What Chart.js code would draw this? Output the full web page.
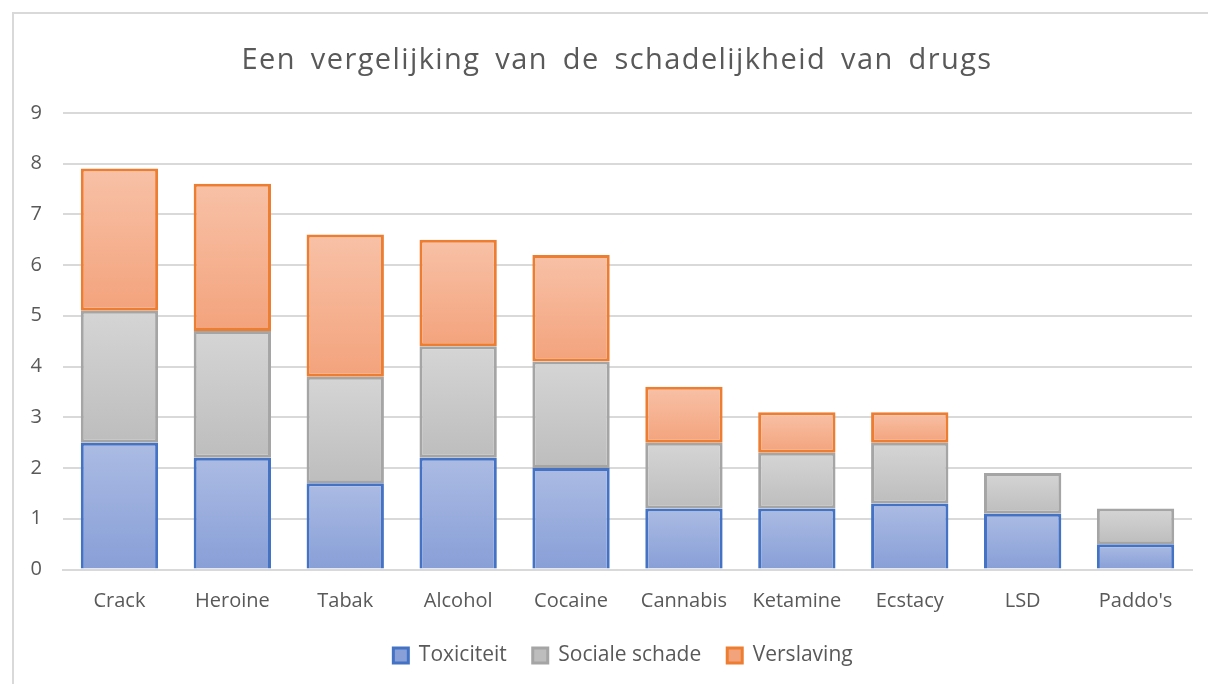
<!DOCTYPE html>
<html>
<head>
<meta charset="utf-8">
<script src="https://cdn.jsdelivr.net/npm/chart.js@4/dist/chart.umd.min.js"></script>
<style>
  body { margin: 0; background: #fff; }
  #frame { position: absolute; left: 12px; top: 12px; width: 1220px; height: 700px; border: 2px solid #d9d9d9; }
  #wrap { position: absolute; left: 0; top: 0; width: 1208px; height: 684px; }
</style>
</head>
<body>
<div id="frame"></div>
<div id="wrap"><canvas id="chart"></canvas></div>
<script>
// gegevens uit de grafiek
const drugs = ["Crack", "Heroine", "Tabak", "Alcohol", "Cocaine", "Cannabis", "Ketamine", "Ecstacy", "LSD", "Paddo's"];
const toxiciteit = [2.5, 2.2, 1.7, 2.2, 2.0, 1.2, 1.2, 1.3, 1.1, 0.5];
const socialeSchade = [2.6, 2.5, 2.1, 2.2, 2.1, 1.3, 1.1, 1.2, 0.8, 0.7];
const verslaving = [2.8, 2.9, 2.8, 2.1, 2.1, 1.1, 0.8, 0.6, 0, 0];
const seriesNames = ["Toxiciteit", "Sociale schade", "Verslaving"];
const yTicks = [0, 1, 2, 3, 4, 5, 6, 7, 8, 9];

const series = [toxiciteit, socialeSchade, verslaving];
const light = ["#abbbe3", "#d5d5d5", "#f8c1a7"];
const dark = ["#889fd7", "#bdbdbd", "#f3a37c"];
const mid = ["#9aade0", "#c9c9c9", "#f5b290"];
const edge = ["#4472c4", "#a5a5a5", "#ed7d31"];

// elk segment zijn eigen verloop, zoals in Excel
function fill(c, i) {
    const chart = c.chart;
    const y = chart.scales.y;
    if (c.type !== "data" || !y || !chart.chartArea) return mid[i];
    let base = 0;
    for (let k = 0; k < i; k++) base += series[k][c.dataIndex];
    const top = base + series[i][c.dataIndex];
    const g = chart.ctx.createLinearGradient(0, y.getPixelForValue(top), 0, y.getPixelForValue(base));
    g.addColorStop(0, light[i]);
    g.addColorStop(1, dark[i]);
    return g;
}

const font = "'Open Sans', 'Noto Sans', sans-serif";
const grey = "#595959";

const chart = new Chart(document.getElementById("chart"), {
    type: "bar",
    data: {
        labels: drugs,
        datasets: series.map((s, i) => ({
            label: seriesNames[i],
            data: s,
            backgroundColor: c => fill(c, i),
            borderColor: edge[i],
            borderWidth: 3,
            borderSkipped: i === 0 ? "start" : false,
            inflateAmount: 0,
            barPercentage: 1,
            categoryPercentage: 0.685
        }))
    },
    options: {
        responsive: true,
        maintainAspectRatio: false,
        animation: false,
        layout: { padding: { left: 20, right: 16, top: 43, bottom: 8 } },
        plugins: {
            title: {
                display: true,
                text: "Een vergelijking van de schadelijkheid van drugs",
                color: grey,
                font: { family: font, size: 29, weight: "normal" },
                padding: { top: 0, bottom: 35 }
            },
            legend: {
                position: "bottom",
                labels: {
                    color: grey,
                    font: { family: font, size: 21 },
                    boxWidth: 15,
                    boxHeight: 15,
                    padding: 26
                }
            },
            tooltip: { enabled: false }
        },
        scales: {
            x: {
                stacked: true,
                grid: { display: false },
                border: { color: "#d9d9d9", width: 2 },
                ticks: { color: grey, font: { family: font, size: 20 }, padding: 12 },
                afterFit: s => { s.height = 49.5; }
            },
            y: {
                stacked: true,
                min: 0,
                max: 9,
                afterBuildTicks: s => { s.ticks = yTicks.map(v => ({ value: v })); },
                grid: { color: "#d9d9d9", lineWidth: 2, drawTicks: false },
                border: { display: false },
                ticks: { color: grey, font: { family: font, size: 20 }, padding: 21 },
                afterFit: s => { s.width = 43; }
            }
        }
    }
});

// titel met wat extra letter- en woordafstand, zoals Excel hem tekent
const tb = chart.titleBlock;
const drawTitle = tb.draw.bind(tb);
tb.draw = function () {
    const ctx = chart.ctx;
    ctx.save();
    ctx.translate(11, 0);
    ctx.letterSpacing = "1.4px";
    ctx.wordSpacing = "6px";
    drawTitle();
    ctx.restore();
};

// legenda iets naar rechts, midden boven het plotgebied
const lg = chart.legend;
const drawLegend = lg.draw.bind(lg);
lg.draw = function () {
    chart.ctx.save();
    chart.ctx.translate(17, 0);
    drawLegend();
    chart.ctx.restore();
};
chart.render();
</script>
</body>
</html>
